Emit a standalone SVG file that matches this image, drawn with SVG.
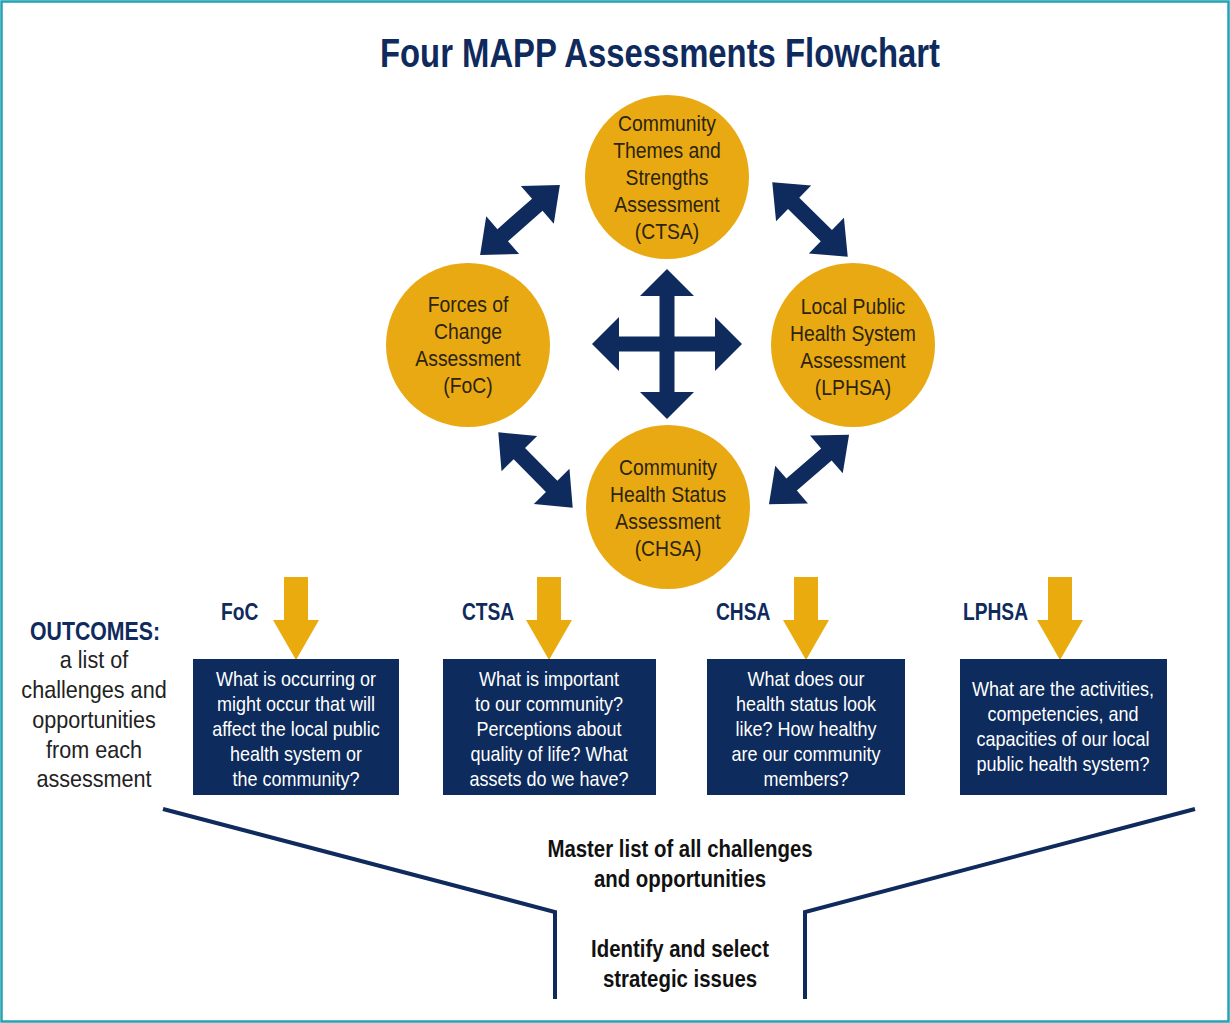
<svg xmlns="http://www.w3.org/2000/svg" width="1230" height="1023" viewBox="0 0 1230 1023">
<defs>
<style>
.nar{font-family:"Liberation Sans",Arial,sans-serif;}
.title{font-size:41px;font-weight:bold;fill:#0f2a5c;text-anchor:middle;}
.circ{fill:#e9a912;}
.ct{font-size:22px;fill:#2b2410;text-anchor:middle;}
.navy{fill:#0f2a5c;}
.box{fill:#0d2b5c;}
.bt{font-size:20px;fill:#ffffff;text-anchor:middle;}
.gold{fill:#eaab0f;}
.lab{font-size:24px;font-weight:bold;fill:#0f2a5c;}
.out{font-size:24px;fill:#222222;text-anchor:middle;}
.blk{font-size:24px;font-weight:bold;fill:#111111;text-anchor:middle;}
.fun{fill:none;stroke:#0f2a5c;stroke-width:4;}
</style>
<path id="dbl" d="M -53 0 L -23 -25 L -23 -8 L 23 -8 L 23 -25 L 53 0 L 23 25 L 23 8 L -23 8 L -23 25 Z"/>
<path id="down" d="M -12 0 L 12 0 L 12 43 L 23 43 L 0 83 L -23 43 L -12 43 Z"/>
</defs>
<rect x="0" y="0" width="1230" height="1023" fill="#ffffff"/>
<rect x="1.5" y="1.5" width="1227" height="1020" fill="none" stroke="#22a2b3" stroke-width="2.5"/>

<text class="nar title" x="660" y="67" textLength="560" lengthAdjust="spacingAndGlyphs">Four MAPP Assessments Flowchart</text>

<g id="ctsa">
<circle class="circ" cx="667" cy="177" r="82"/>
<g transform="translate(667 0) scale(0.88 1)">
<text class="nar ct" x="0" y="131">Community</text>
<text class="nar ct" x="0" y="158">Themes and</text>
<text class="nar ct" x="0" y="185">Strengths</text>
<text class="nar ct" x="0" y="212">Assessment</text>
<text class="nar ct" x="0" y="239">(CTSA)</text>
</g>
</g>
<g id="foc">
<circle class="circ" cx="468" cy="345" r="82"/>
<g transform="translate(468 0) scale(0.88 1)">
<text class="nar ct" x="0" y="312">Forces of</text>
<text class="nar ct" x="0" y="339">Change</text>
<text class="nar ct" x="0" y="366">Assessment</text>
<text class="nar ct" x="0" y="393">(FoC)</text>
</g>
</g>
<g id="lphsa">
<circle class="circ" cx="853" cy="345" r="82"/>
<g transform="translate(853 0) scale(0.88 1)">
<text class="nar ct" x="0" y="314">Local Public</text>
<text class="nar ct" x="0" y="341">Health System</text>
<text class="nar ct" x="0" y="368">Assessment</text>
<text class="nar ct" x="0" y="395">(LPHSA)</text>
</g>
</g>
<g id="chsa">
<circle class="circ" cx="668" cy="507" r="82"/>
<g transform="translate(668 0) scale(0.88 1)">
<text class="nar ct" x="0" y="475">Community</text>
<text class="nar ct" x="0" y="502">Health Status</text>
<text class="nar ct" x="0" y="529">Assessment</text>
<text class="nar ct" x="0" y="556">(CHSA)</text>
</g>
</g>

<g id="connectors">
<use href="#dbl" class="navy" transform="translate(520 220) rotate(-41.2)"/>
<use href="#dbl" class="navy" transform="translate(810 219.5) rotate(44.6)"/>
<use href="#dbl" class="navy" transform="translate(535.5 470) rotate(45.4)"/>
<use href="#dbl" class="navy" transform="translate(809 469.5) rotate(-40.9)"/>
<path class="navy" transform="translate(667 344)" d="M 0 -75 L 27 -48 L 7.5 -48 L 7.5 -7.5 L 48 -7.5 L 48 -27 L 75 0 L 48 27 L 48 7.5 L 7.5 7.5 L 7.5 48 L 27 48 L 0 75 L -27 48 L -7.5 48 L -7.5 7.5 L -48 7.5 L -48 27 L -75 0 L -48 -27 L -48 -7.5 L -7.5 -7.5 L -7.5 -48 L -27 -48 Z"/>
<use href="#down" class="gold" transform="translate(296 577)"/>
<use href="#down" class="gold" transform="translate(549 577)"/>
<use href="#down" class="gold" transform="translate(806 577)"/>
<use href="#down" class="gold" transform="translate(1060 577)"/>
<path class="fun" d="M 163 809 L 555 912 L 555 999"/>
<path class="fun" d="M 1195 809 L 805 912 L 805 999"/>
</g>

<g id="outcomes">
<text class="nar" x="30" y="640" style="font-size:26px;font-weight:bold;fill:#0f2a5c" textLength="130" lengthAdjust="spacingAndGlyphs">OUTCOMES:</text>
<g transform="translate(94 0) scale(0.9 1)">
<text class="nar out" x="0" y="668">a list of</text>
<text class="nar out" x="0" y="698">challenges and</text>
<text class="nar out" x="0" y="728">opportunities</text>
<text class="nar out" x="0" y="758">from each</text>
<text class="nar out" x="0" y="787">assessment</text>
</g>
</g>

<g id="foc-out">
<text class="nar lab" transform="translate(221 620) scale(0.8 1)" x="0" y="0">FoC</text>
<rect class="box" x="193" y="659" width="206" height="136"/>
<g transform="translate(296 0) scale(0.9 1)">
<text class="nar bt" x="0" y="686">What is occurring or</text>
<text class="nar bt" x="0" y="711">might occur that will</text>
<text class="nar bt" x="0" y="736">affect the local public</text>
<text class="nar bt" x="0" y="761">health system or</text>
<text class="nar bt" x="0" y="786">the community?</text>
</g>
</g>
<g id="ctsa-out">
<text class="nar lab" transform="translate(462 620) scale(0.8 1)" x="0" y="0">CTSA</text>
<rect class="box" x="443" y="659" width="213" height="136"/>
<g transform="translate(549 0) scale(0.9 1)">
<text class="nar bt" x="0" y="686">What is important</text>
<text class="nar bt" x="0" y="711">to our community?</text>
<text class="nar bt" x="0" y="736">Perceptions about</text>
<text class="nar bt" x="0" y="761">quality of life? What</text>
<text class="nar bt" x="0" y="786">assets do we have?</text>
</g>
</g>
<g id="chsa-out">
<text class="nar lab" transform="translate(716 620) scale(0.8 1)" x="0" y="0">CHSA</text>
<rect class="box" x="707" y="659" width="198" height="136"/>
<g transform="translate(806 0) scale(0.9 1)">
<text class="nar bt" x="0" y="686">What does our</text>
<text class="nar bt" x="0" y="711">health status look</text>
<text class="nar bt" x="0" y="736">like? How healthy</text>
<text class="nar bt" x="0" y="761">are our community</text>
<text class="nar bt" x="0" y="786">members?</text>
</g>
</g>
<g id="lphsa-out">
<text class="nar lab" transform="translate(963 620) scale(0.8 1)" x="0" y="0">LPHSA</text>
<rect class="box" x="960" y="659" width="207" height="136"/>
<g transform="translate(1063 0) scale(0.9 1)">
<text class="nar bt" x="0" y="696">What are the activities,</text>
<text class="nar bt" x="0" y="721">competencies, and</text>
<text class="nar bt" x="0" y="746">capacities of our local</text>
<text class="nar bt" x="0" y="771">public health system?</text>
</g>
</g>

<g id="master" transform="translate(680 0) scale(0.85 1)">
<text class="nar blk" x="0" y="857">Master list of all challenges</text>
<text class="nar blk" x="0" y="887">and opportunities</text>
</g>
<g id="identify" transform="translate(680 0) scale(0.85 1)">
<text class="nar blk" x="0" y="957">Identify and select</text>
<text class="nar blk" x="0" y="987">strategic issues</text>
</g>
</svg>
